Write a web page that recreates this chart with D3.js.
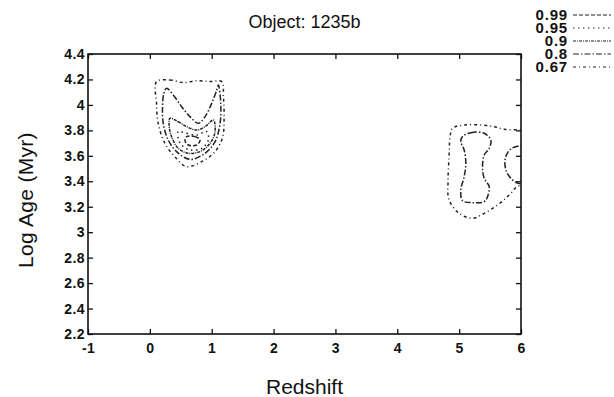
<!DOCTYPE html>
<html>
<head>
<meta charset="utf-8">
<script src="https://cdn.jsdelivr.net/npm/d3@7"></script>
<style>
  body { margin: 0; background: #fff; }
  text { font-family: "Liberation Sans", Arial, Helvetica, sans-serif; fill: #111; }
</style>
</head>
<body>
<div id="chart"></div>
<script>
// chart values
var title = "Object: 1235b";
var xTicks = [-1, 0, 1, 2, 3, 4, 5, 6];
var yTicks = [2.2, 2.4, 2.6, 2.8, 3, 3.2, 3.4, 3.6, 3.8, 4, 4.2, 4.4];
var levels = ["0.99", "0.95", "0.9", "0.8", "0.67"];

// contours, [redshift, log age]
var leftOuter = [[0.108,4.183],[0.324,4.196],[0.541,4.175],[0.757,4.190],[0.973,4.183],[1.162,4.183],
  [1.189,4.065],[1.200,3.908],[1.178,3.750],[1.054,3.633],[0.865,3.562],[0.595,3.515],
  [0.405,3.593],[0.243,3.698],[0.135,3.855],[0.108,4.012]];
var leftSecond = [[0.270,4.130],[0.378,4.078],[0.514,3.986],[0.649,3.908],[0.784,3.855],[0.892,3.908],
  [1.000,4.012],[1.081,4.117],[1.108,4.156],[1.146,4.012],[1.135,3.855],[1.054,3.711],
  [0.892,3.620],[0.649,3.572],[0.432,3.633],[0.297,3.724],[0.216,3.855],[0.205,3.986],[0.227,4.091]];
var leftThird = [[0.324,3.895],[0.459,3.868],[0.595,3.829],[0.757,3.803],[0.892,3.829],[1.027,3.881],
  [1.054,3.790],[0.973,3.698],[0.811,3.633],[0.622,3.620],[0.459,3.659],[0.351,3.750],[0.314,3.829]];
var leftFourth = [[0.459,3.790],[0.595,3.777],[0.757,3.764],[0.919,3.790],[0.946,3.724],[0.838,3.659],
  [0.649,3.646],[0.514,3.685],[0.459,3.737]];
var leftFifth = [[0.595,3.751],[0.730,3.751],[0.811,3.724],[0.757,3.685],[0.622,3.685],[0.568,3.719]];

var rightOuter = [[4.891,3.816],[5.081,3.842],[5.351,3.842],[5.567,3.829],[5.729,3.808],[5.972,3.803],
  [6.162,3.790],[6.162,3.358],[5.956,3.363],[5.810,3.292],[5.621,3.214],[5.405,3.148],
  [5.216,3.109],[5.000,3.148],[4.837,3.253],[4.821,3.410],[4.837,3.593],[4.854,3.751]];
var rightIsland = [[5.054,3.751],[5.189,3.782],[5.405,3.777],[5.513,3.724],[5.486,3.659],[5.405,3.606],
  [5.378,3.515],[5.405,3.423],[5.486,3.358],[5.459,3.279],[5.405,3.240],[5.216,3.232],
  [5.054,3.248],[5.027,3.331],[5.081,3.436],[5.108,3.541],[5.081,3.646],[5.027,3.711]];
var rightEdge = [[6.162,3.685],[5.956,3.677],[5.827,3.651],[5.746,3.580],[5.756,3.489],
  [5.837,3.423],[5.956,3.384],[6.162,3.384]];

var contours = [
  {level: "0.67", pts: leftOuter},
  {level: "0.8", pts: leftSecond},
  {level: "0.9", pts: leftThird},
  {level: "0.95", pts: leftFourth},
  {level: "0.99", pts: leftFifth},
  {level: "0.67", pts: rightOuter},
  {level: "0.8", pts: rightIsland},
  {level: "0.8", pts: rightEdge}
];

var dash = {"0.99": "4,2", "0.95": "1.5,3.5", "0.9": "3,1,1,1", "0.8": "6,2,1.5,2", "0.67": "3,3,1,3"};

var W = 614, H = 397;
var margin = {top: 54, right: 93, bottom: 63, left: 88};
var width = W - margin.left - margin.right,
    height = H - margin.top - margin.bottom;

var svg = d3.select("#chart").append("svg")
  .attr("width", W).attr("height", H);

var g = svg.append("g")
  .attr("transform", "translate(" + margin.left + "," + margin.top + ")");

var x = d3.scaleLinear().domain([-1, 6]).range([0, width]);
var y = d3.scaleLinear().domain([2.2, 4.4]).range([height, 0]);

svg.append("defs").append("clipPath").attr("id", "plotclip")
  .append("rect").attr("width", width).attr("height", height);

var fmt = function(d) { return String(+d.toFixed(1)); };

// axes, ticks pointing inward on all four sides
g.append("g").attr("class", "ax")
  .attr("transform", "translate(0," + height + ")")
  .call(d3.axisBottom(x).tickValues(xTicks).tickFormat(fmt).tickSizeInner(-5).tickSizeOuter(0).tickPadding(9));
g.append("g").attr("class", "ax")
  .call(d3.axisTop(x).tickValues(xTicks).tickFormat("").tickSizeInner(-5).tickSizeOuter(0));
g.append("g").attr("class", "ax")
  .call(d3.axisLeft(y).tickValues(yTicks).tickFormat(fmt).tickSizeInner(-5).tickSizeOuter(0).tickPadding(3));
g.append("g").attr("class", "ax")
  .attr("transform", "translate(" + width + ",0)")
  .call(d3.axisRight(y).tickValues(yTicks).tickFormat("").tickSizeInner(-5).tickSizeOuter(0));

g.selectAll(".ax .domain").remove();
g.selectAll(".ax line").attr("stroke", "#111").attr("stroke-width", 1.3);
g.selectAll(".ax text")
  .style("font-size", "14px").style("font-weight", "bold").style("letter-spacing", "0.4px")
  .attr("fill", "#111");

g.append("rect")
  .attr("width", width).attr("height", height)
  .attr("fill", "none").attr("stroke", "#111").attr("stroke-width", 1.6);

// contours
var line = d3.line()
  .x(function(d) { return x(d[0]); })
  .y(function(d) { return y(d[1]); })
  .curve(d3.curveCatmullRomClosed.alpha(0.5));

g.append("g").attr("clip-path", "url(#plotclip)")
  .selectAll("path").data(contours).enter().append("path")
  .attr("d", function(d) { return line(d.pts); })
  .attr("fill", "none")
  .attr("stroke", "#222")
  .attr("stroke-width", 1.5)
  .attr("stroke-dasharray", function(d) { return dash[d.level]; });

// titles
svg.append("text")
  .attr("x", margin.left + width / 2).attr("y", 28)
  .attr("text-anchor", "middle")
  .style("font-size", "18px")
  .text(title);

svg.append("text")
  .attr("x", margin.left + width / 2).attr("y", 394)
  .attr("text-anchor", "middle")
  .style("font-size", "21px")
  .text("Redshift");

svg.append("text")
  .attr("transform", "translate(33,200) rotate(-90)")
  .attr("text-anchor", "middle")
  .style("font-size", "21px")
  .style("letter-spacing", "0.3px")
  .text("Log Age (Myr)");

// legend
var leg = svg.append("g").attr("transform", "translate(0,15)");
var row = leg.selectAll("g").data(levels).enter().append("g")
  .attr("transform", function(d, i) { return "translate(0," + (i * 13) + ")"; });
row.append("text")
  .attr("x", 568).attr("y", 4.5)
  .attr("text-anchor", "end")
  .style("font-size", "15px").style("font-weight", "bold").style("letter-spacing", "0.8px")
  .text(function(d) { return d; });
row.append("line")
  .attr("x1", 573).attr("x2", 611)
  .attr("stroke", "#222").attr("stroke-width", 1.2)
  .attr("stroke-dasharray", function(d) { return dash[d]; });
</script>
</body>
</html>
